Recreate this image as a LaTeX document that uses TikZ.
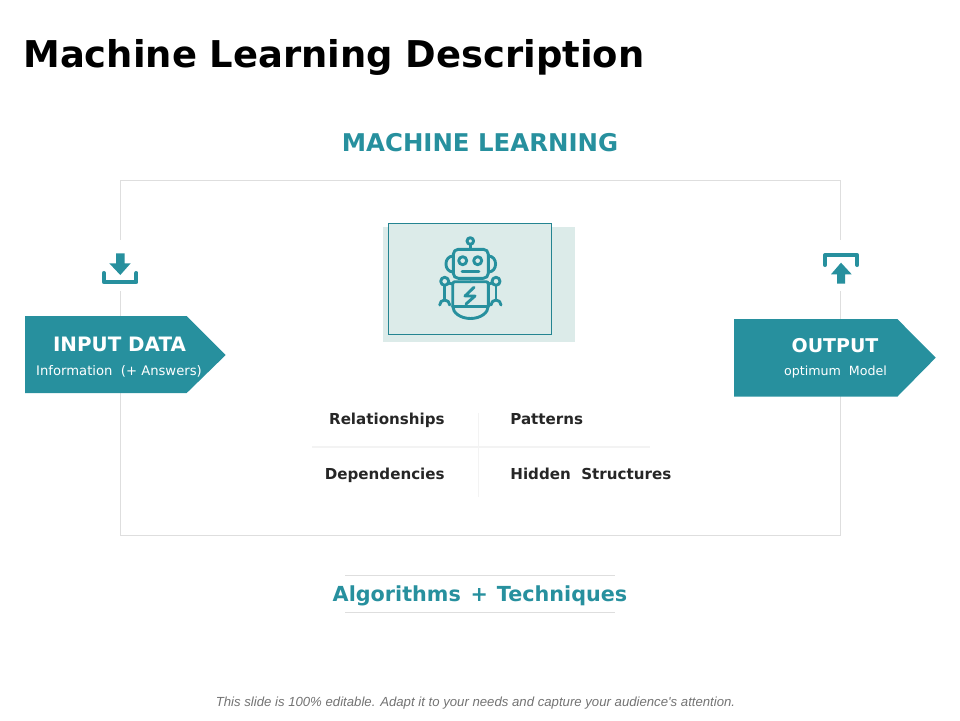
\documentclass[tikz,border=0pt]{standalone}
\usepackage{fontspec}
\setmainfont{DejaVu Sans}
\newfontfamily\footfont{Liberation Sans}
\definecolor{tealmain}{HTML}{27909E}
\definecolor{tealpale}{HTML}{DCEBE9}
\definecolor{framegray}{HTML}{DEDEDE}
\definecolor{gridgray}{HTML}{F3F3F3}
\tikzset{
	robotline/.style={line width=1.65pt, color=tealmain, line cap=round, line join=round},
	chevron/.style={fill=tealmain, draw=none},
	cellname/.style={font=\fontsize{8.6}{11}\selectfont\bfseries, text=black!85, inner sep=0pt},
	tealhead/.style={font=\fontsize{13.9}{15}\selectfont\bfseries, text=tealmain, inner sep=0pt},
	boxhead/.style={font=\fontsize{11.3}{13}\selectfont\bfseries, text=white, inner sep=0pt},
	boxnote/.style={font=\fontsize{7.5}{9}\selectfont, text=white, inner sep=0pt}
}

\begin{document}
\begin{tikzpicture}[x=0.02cm, y=-0.02cm]
	%%%%% PAGE %%%%%
	\useasboundingbox (0, 0) rectangle (960, 720);
	
	\node[font=\fontsize{21}{24}\selectfont\bfseries, text=black, inner sep=0pt, anchor=base west] (title) at (23, 67) {Machine Learning Description};
	\node[tealhead] (mlhead) at (480, 143) {MACHINE LEARNING};
	
	\draw[line width=0.45pt, color=framegray] (120.5, 180.5) rectangle (840.5, 535.3);
	
	%%%%% ROBOT CARD %%%%%
	\fill[tealpale] (383.3, 226.7) rectangle (575, 341.7);
	\draw[line width=0.6pt, color=tealmain!92!black, fill=tealpale] (388.3, 223.3) rectangle (551.7, 334.3);
	
	\draw[robotline] (470.3, 241) circle (3.3);
	\draw[robotline] (470.3, 244.3) -- (470.3, 249.3);
	\draw[robotline, rounded corners=2.8pt] (453.3, 249.3) rectangle (488.3, 278.3);
	\draw[robotline] (453.3, 256) .. controls (443.5, 256) and (443.5, 272) .. (453.3, 272);
	\draw[robotline] (488.3, 256) .. controls (498, 256) and (498, 272) .. (488.3, 272);
	\draw[robotline] (462.7, 260.7) circle (4);
	\draw[robotline] (477.7, 260.7) circle (4);
	\draw[robotline] (462, 271.3) -- (479, 271.3);
	
	\draw[robotline, rounded corners=1.2pt] (470.5, 281.7) -- (452.7, 281.7) -- (452.7, 306);
	\draw[robotline, rounded corners=1.2pt] (470.5, 281.7) -- (488.3, 281.7) -- (488.3, 306);
	\draw[robotline] (452.7, 306) arc[start angle=180, end angle=0, x radius=17.8, y radius=12.5];
	\draw[robotline] (452.7, 306.7) -- (488.3, 306.7);
	\draw[robotline] (474, 287.3) -- (465, 296) -- (475, 296) -- (466, 304);
	
	\draw[robotline] (444.7, 281.3) circle (4);
	\draw[robotline] (496, 281.3) circle (4);
	\draw[robotline] (448.3, 283) -- (452.7, 284);
	\draw[robotline] (492.4, 283) -- (488.3, 284);
	\draw[robotline] (444.7, 285.3) -- (444.7, 300);
	\draw[robotline] (496, 285.3) -- (496, 300);
	\draw[robotline] (439.7, 305) arc (180:360:5);
	\draw[robotline] (491, 305) arc (180:360:5);
	
	%%%%% INPUT %%%%%
	\fill[white] (100, 240) rectangle (140, 291);
	\fill[tealmain] (116, 253.3) -- (124.7, 253.3) -- (124.7, 263.3) -- (130.7, 263.3) -- (120.3, 275) -- (109.3, 263.3) -- (116, 263.3) -- cycle;
	\draw[line width=2.3pt, color=tealmain, line join=round, line cap=round] (103.8, 273) -- (103.8, 282.2) -- (136.4, 282.2) -- (136.4, 273);
	
	\fill[chevron] (25, 316) -- (186.7, 316) -- (225.7, 355) -- (186.7, 393) -- (25, 393) -- cycle;
	\node[boxhead] (inputhead) at (119.5, 344.5) {INPUT DATA};
	\node[boxnote] (inputnote) at (119, 371.5) {Information\ \ (+ Answers)};
	
	%%%%% OUTPUT %%%%%
	\fill[white] (820, 240) rectangle (862, 291);
	\fill[tealmain] (841, 262.7) -- (851.7, 274.3) -- (845, 274.3) -- (845, 283.7) -- (837, 283.7) -- (837, 274.3) -- (831, 274.3) -- cycle;
	\draw[line width=2.3pt, color=tealmain, line join=round, line cap=round] (825, 265) -- (825, 255.2) -- (857.2, 255.2) -- (857.2, 265);
	
	\fill[chevron] (734, 319) -- (897.3, 319) -- (935.7, 357.7) -- (897.3, 396.7) -- (734, 396.7) -- cycle;
	\node[boxhead, font=\fontsize{10.8}{13}\selectfont\bfseries] (outputhead) at (835, 345.5) {OUTPUT};
	\node[boxnote, font=\fontsize{7.2}{9}\selectfont] (outputnote) at (835.5, 372.5) {optimum\ \ Model};
	
	%%%%% GRID %%%%%
	\draw[line width=0.6pt, color=gridgray] (312, 447) -- (650, 447);
	\draw[line width=0.6pt, color=gridgray] (478.3, 413) -- (478.3, 497);
	\node[cellname, anchor=base east] (relations) at (445, 424.5) {Relationships};
	\node[cellname, anchor=base west] (patterns) at (510, 424.5) {Patterns};
	\node[cellname, anchor=base east] (depends) at (445, 479.5) {Dependencies};
	\node[cellname, anchor=base west] (hidden) at (510, 479.5) {Hidden\ \ Structures};
	
	%%%%% FOOT %%%%%
	\draw[line width=0.6pt, color=framegray] (345, 575.3) -- (615, 575.3);
	\draw[line width=0.6pt, color=framegray] (345, 612.3) -- (615, 612.3);
	\node[tealhead, font=\fontsize{11.8}{15}\selectfont\bfseries] (algos) at (480, 596) {Algorithms\hspace{5.6pt}+\hspace{5pt}Techniques};
	\node[font=\footfont\itshape\fontsize{7.5}{9}\selectfont, text=black!55, inner sep=0pt] (slidenote) at (475.5, 703.5) {This slide is 100\% editable. Adapt it to your needs and capture your audience's attention.};
\end{tikzpicture}
\end{document}
